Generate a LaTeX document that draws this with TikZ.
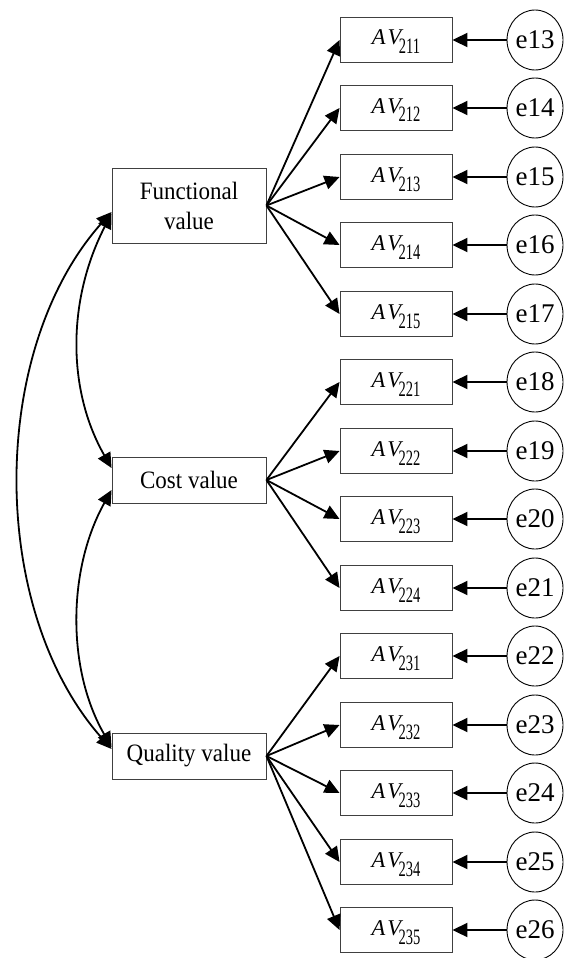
\documentclass[tikz,border=0pt]{standalone}
\usepackage{fontspec}
\setmainfont{Liberation Serif}
\newfontfamily\latfont[FakeStretch=0.92]{Liberation Serif}
\newfontfamily\subfont[FakeStretch=0.66]{Liberation Serif}
\usetikzlibrary{arrows.meta,shapes.geometric}

% indicator label: italic AV with a narrow, lowered subscript
\newcommand\avlab[1]{{\fontsize{22.5}{22.5}\selectfont\itshape A\kern2pt V}\kern-2.5pt\raisebox{-9pt}{\subfont\fontsize{22}{22}\selectfont #1}}

\tikzset{
  latent/.style={draw=black!75, line width=0.9pt, fill=white,
    minimum width=154pt, minimum height=46pt, inner sep=0pt, align=center,
    font=\latfont\fontsize{25}{30}\selectfont},
  indicator/.style={draw=black!75, line width=0.9pt, fill=white,
    minimum width=112pt, minimum height=45pt, inner sep=0pt,
    text height=15pt, text depth=5pt},
  errnode/.style={draw, line width=0.9pt, ellipse, fill=white,
    minimum width=56pt, minimum height=60pt, inner sep=0pt,
    font=\fontsize{27}{27}\selectfont},
  load/.style={-{Triangle[length=15pt,width=14pt]}, line width=1.8pt},
  errload/.style={-{Triangle[length=15pt,width=14pt]}, line width=2pt},
  cov/.style={{Triangle[length=15pt,width=14pt]}-{Triangle[length=15pt,width=14pt]}, line width=1.8pt}
}

\begin{document}
\begin{tikzpicture}[x=1pt, y=-1pt]
\useasboundingbox (0,0) rectangle (568,958);

% latent factors
\node[latent, minimum height=75pt] (F) at (189,205.5) {Functional\\value};
\node[latent] (C) at (189,480) {Cost value};
\node[latent] (Q) at (189,756) {Quality value};

% indicators with their error terms
\foreach \lab/\e/\yy in {211/13/40,212/14/108,213/15/177,214/16/245,215/17/314,
    221/18/382,222/19/451,223/20/519,224/21/588,231/22/656,232/23/725,
    233/24/793,234/25/862,235/26/930} {
  \node[indicator] (v\lab) at (396,\yy) {\avlab{\lab}};
  \node[errnode] (e\e) at (535,\yy) {e\e};
  \draw[errload] (e\e) -- (v\lab);
}

% factor loadings
\foreach \lab in {211,212,213,214,215} \draw[load] (F.east) -- (v\lab.west);
\foreach \lab in {221,222,223,224} \draw[load] (C.east) -- (v\lab.west);
\foreach \lab in {231,232,233,234,235} \draw[load] (Q.east) -- (v\lab.west);

% covariances between factors
\draw[cov] ([yshift=-8pt]F.west) .. controls (67,300) and (67,390) .. ([yshift=12pt]C.west);
\draw[cov] ([yshift=-10pt]C.west) .. controls (67,570) and (67,670) .. ([yshift=9pt]Q.west);
\draw[cov] ([yshift=-6.5pt]F.west) .. controls (-12,350) and (-12,610) .. ([yshift=7pt]Q.west);
\end{tikzpicture}
\end{document}
